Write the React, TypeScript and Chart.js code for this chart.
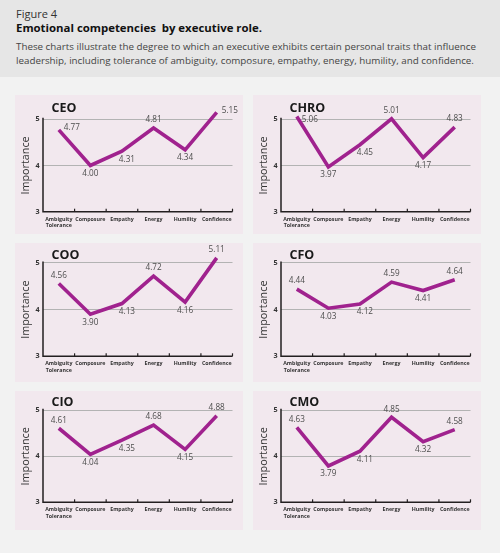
import React, { useEffect, useRef } from 'react';
import { Chart, registerables } from 'chart.js';

Chart.register(...registerables);

// ---- data ----
const categories: (string | string[])[] = [['Ambiguity', 'Tolerance'], 'Composure', 'Empathy', 'Energy', 'Humility', 'Confidence'];
const yTicks = [3, 4, 5];
const roles = ['CEO', 'CHRO', 'COO', 'CFO', 'CIO', 'CMO'];
const ceoValues = [4.77, 4.0, 4.31, 4.81, 4.34, 5.15];
const chroValues = [5.06, 3.97, 4.45, 5.01, 4.17, 4.83];
const cooValues = [4.56, 3.9, 4.13, 4.72, 4.16, 5.11];
const cfoValues = [4.44, 4.03, 4.12, 4.59, 4.41, 4.64];
const cioValues = [4.61, 4.04, 4.35, 4.68, 4.15, 4.88];
const cmoValues = [4.63, 3.79, 4.11, 4.85, 4.32, 4.58];
const seriesValues = [ceoValues, chroValues, cooValues, cfoValues, cioValues, cmoValues];

// ---- styles ----
const labelPlacement = [
  ['r', 'b', 'br', 'a', 'b', 'r'],
  ['rb', 'b', 'br', 'a', 'b', 'a'],
  ['a', 'b', 'br', 'a', 'b', 'a'],
  ['a', 'b', 'br', 'a', 'b', 'a'],
  ['a', 'b', 'br', 'a', 'b', 'a'],
  ['a', 'b', 'br', 'a', 'b', 'a'],
];
const rowGeom = [
  { top: 95, padTop: 12.75, xHeight: 22.3, titleY: 16.7 },
  { top: 243, padTop: 8.3, xHeight: 25.7, titleY: 16.3 },
  { top: 391, padTop: 6.7, xHeight: 27.7, titleY: 14.7 },
];
const colLefts = [15, 253];
const PANEL_W = 228;
const PANEL_H = 139;
const FONT = "'Open Sans', 'DejaVu Sans', sans-serif";
const LINE_COLOR = '#a0228e';
const PANEL_BG = '#f2e8ee';

const decorPlugin = {
  id: 'decor',
  afterDatasetsDraw(chart: any, _args: any, opts: any) {
    const ctx = chart.ctx;
    const ys = chart.scales.y;
    const area = chart.chartArea;
    ctx.save();
    // axes
    ctx.strokeStyle = '#231f20';
    ctx.lineWidth = 1.5;
    ctx.beginPath();
    ctx.moveTo(area.left, ys.getPixelForValue(5) - 1.5);
    ctx.lineTo(area.left, area.bottom);
    ctx.lineTo(area.right, area.bottom);
    ctx.stroke();
    // tick marks at category boundaries
    const n = chart.data.labels.length;
    const w = (area.right - area.left) / n;
    ctx.lineWidth = 1.2;
    for (let i = 1; i <= n; i++) {
      const x = area.left + i * w;
      ctx.beginPath();
      ctx.moveTo(x, area.bottom - 3);
      ctx.lineTo(x, area.bottom);
      ctx.stroke();
    }
    // title
    ctx.fillStyle = '#1a1a1a';
    ctx.font = `bold 12.5px ${FONT}`;
    ctx.textAlign = 'left';
    ctx.textBaseline = 'alphabetic';
    ctx.fillText(opts.title, 36.5, opts.titleY);
    // y title
    ctx.save();
    ctx.fillStyle = '#333';
    ctx.font = `10.8px ${FONT}`;
    ctx.translate(11.2, (ys.getPixelForValue(3) + ys.getPixelForValue(5)) / 2);
    ctx.rotate(-Math.PI / 2);
    ctx.textAlign = 'center';
    ctx.textBaseline = 'middle';
    ctx.fillText('Importance', 0, 0);
    ctx.restore();
    // data labels
    const meta = chart.getDatasetMeta(0);
    const data = chart.data.datasets[0].data;
    ctx.fillStyle = '#4d4d4d';
    ctx.font = `8.2px ${FONT}`;
    ctx.textBaseline = 'middle';
    meta.data.forEach((pt: any, i: number) => {
      const p = opts.placement[i];
      const txt = Number(data[i]).toFixed(2);
      let x = pt.x, y = pt.y;
      ctx.textAlign = 'center';
      if (p === 'r') { ctx.textAlign = 'left'; x += 5; y -= 2; }
      else if (p === 'rb') { ctx.textAlign = 'left'; x += 5; y += 3; }
      else if (p === 'b') { y += 8; }
      else if (p === 'br') { x += 5; y += 8; }
      else if (p === 'a') { y -= 8; }
      ctx.fillText(txt, x, y);
    });
    ctx.restore();
  },
};

function Panel({ idx }: { idx: number }) {
  const ref = useRef<HTMLCanvasElement>(null);
  const row = Math.floor(idx / 2);
  const col = idx % 2;
  const g = rowGeom[row];
  useEffect(() => {
    const chart = new Chart(ref.current as HTMLCanvasElement, {
      type: 'line',
      data: {
        labels: categories,
        datasets: [
          {
            data: seriesValues[idx],
            borderColor: LINE_COLOR,
            borderWidth: 3.6,
            borderJoinStyle: 'miter',
            pointRadius: 0,
            tension: 0,
            fill: false,
          },
        ],
      },
      options: {
        animation: false,
        responsive: true,
        maintainAspectRatio: false,
        layout: { padding: { left: 0, right: 10.5, top: g.padTop, bottom: 0 } },
        plugins: {
          legend: { display: false },
          tooltip: { enabled: false },
          decor: { title: roles[idx], titleY: g.titleY, placement: labelPlacement[idx] },
        } as any,
        scales: {
          x: {
            type: 'category',
            offset: true,
            grid: { display: false, drawTicks: false },
            border: { display: false },
            ticks: {
              padding: 4.5,
              color: '#333',
              font: { family: FONT, size: 5.3, weight: 'bold', lineHeight: 1.2 },
              maxRotation: 0,
              autoSkip: false,
            },
            afterFit: (s: any) => { s.height = g.xHeight; },
          },
          y: {
            min: 3,
            max: 5.25,
            afterBuildTicks: (s: any) => { s.ticks = yTicks.map((v) => ({ value: v })); },
            grid: {
              drawTicks: false,
              color: (c: any) => (c.tick && c.tick.value === 3 ? 'rgba(0,0,0,0)' : '#b3b3b3'),
              lineWidth: 1,
            },
            border: { display: false },
            ticks: {
              padding: 3.5,
              color: '#333',
              font: { family: FONT, size: 7.2, weight: 'bold' },
            },
            afterFit: (s: any) => { s.width = 28; },
          },
        },
      } as any,
      plugins: [decorPlugin],
    });
    return () => chart.destroy();
  }, []);
  return (
    <div
      style={{
        position: 'absolute',
        left: colLefts[col],
        top: g.top,
        width: PANEL_W,
        height: PANEL_H,
        background: PANEL_BG,
      }}
    >
      <canvas ref={ref} />
    </div>
  );
}

export default function App() {
  return (
    <div
      style={{
        position: 'absolute',
        left: 0,
        top: 0,
        width: 500,
        height: 553,
        background: '#f2f2f2',
        fontFamily: FONT,
        overflow: 'hidden',
      }}
    >
      <div style={{ position: 'absolute', left: 0, top: 0, width: 500, height: 77, background: '#e6e6e6' }} />
      <div style={{ position: 'absolute', left: 16, top: 6, fontSize: 11, color: '#333' }}>Figure 4</div>
      <div style={{ position: 'absolute', left: 16, top: 20, fontSize: 11.4, fontWeight: 'bold', color: '#111', whiteSpace: 'pre' }}>
        {'Emotional competencies  by executive role.'}
      </div>
      <div style={{ position: 'absolute', left: 16, top: 40, fontSize: 9.8, lineHeight: '13.5px', color: '#444', whiteSpace: 'nowrap' }}>
        These charts illustrate the degree to which an executive exhibits certain personal traits that influence
        <br />
        leadership, including tolerance of ambiguity, composure, empathy, energy, humility, and confidence.
      </div>
      {roles.map((r, i) => (
        <Panel key={r} idx={i} />
      ))}
    </div>
  );
}
